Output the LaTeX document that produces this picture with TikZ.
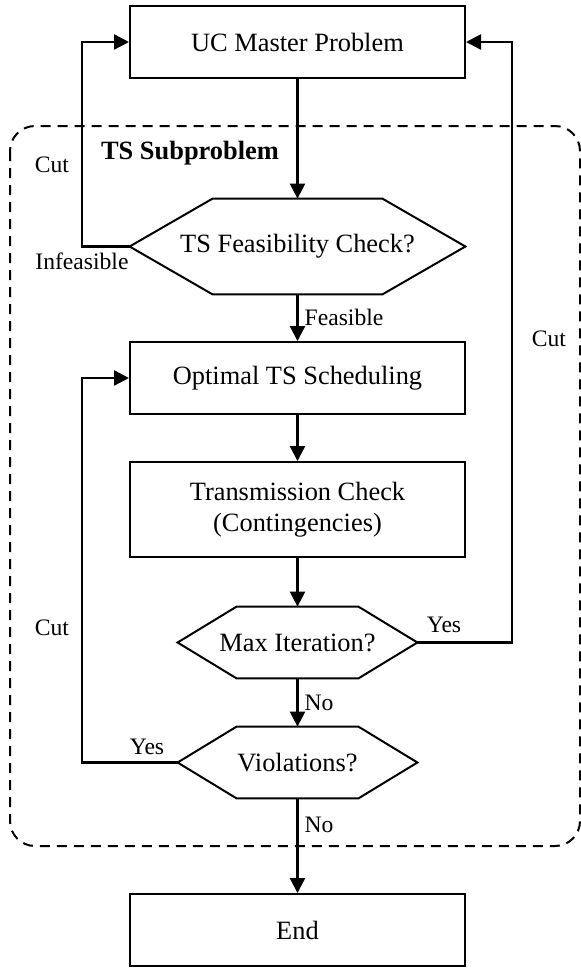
\documentclass[tikz,border=0pt]{standalone}
\usepackage{fontspec}
\setmainfont{Liberation Serif}
\usepackage{tikz}
\usetikzlibrary{arrows.meta}
\usetikzlibrary{calc}

\tikzset{
	procbox/.style={draw, line width=1pt, rectangle, inner sep=0pt,
		minimum width=167.5pt, minimum height=36pt, align=center},
	hexbox/.style={rectangle, inner sep=0pt},
	hexline/.style={line width=1pt, line join=miter},
	flow/.style={line width=1.2pt, -{Triangle[length=7.5pt,width=7.5pt]}},
	lbl/.style={font=\fontsize{11.8}{14}\selectfont, inner sep=0pt},
	tsbox/.style={line width=1pt, dash pattern=on 5pt off 3.5pt, rounded corners=12.5pt}
}

% hexagon round a named node, #2 = slant
\newcommand{\drawhex}[2]{
	\draw[hexline] (#1.west) -- ($(#1.north west)+(#2,0)$) -- ($(#1.north east)+(-#2,0)$)
		-- (#1.east) -- ($(#1.south east)+(-#2,0)$) -- ($(#1.south west)+(#2,0)$) -- cycle;
}

\begin{document}
\begin{tikzpicture}[x=0.5pt, y=-0.5pt, font=\fontsize{13.2}{15.8}\selectfont]
		\useasboundingbox (0,0) rectangle (581,971);
		% subproblem frame
		\draw[tsbox] (10,126) rectangle (580,846);
		\node[font=\fontsize{13.2}{15.8}\selectfont\bfseries, inner sep=0pt] (tstitle) at (190,153) {TS Subproblem};

		\coordinate (lft) at (82,0);
		\coordinate (rgt) at (512,0);

		\node[procbox] (master) at (297.5,42) {UC Master Problem};
		\node[hexbox, minimum width=167.5pt, minimum height=47.5pt] (feas) at (297.5,246.5) {TS Feasibility Check?};
		\node[procbox] (opt) at (297.5,378) {Optimal TS Scheduling};
		\node[procbox, minimum height=47.5pt] (trans) at (297.5,509.5) {Transmission Check\\(Contingencies)};
		\node[hexbox, minimum width=119.5pt, minimum height=35.5pt] (maxit) at (297.5,642.5) {Max Iteration?};
		\node[hexbox, minimum width=119.5pt, minimum height=35.5pt] (viol) at (297.5,762.5) {Violations?};
		\node[procbox] (finish) at (297.5,930) {End};

		\drawhex{feas}{83}
		\drawhex{maxit}{59}
		\drawhex{viol}{59}

		% main flow
		\draw[flow] (master.south) -- (feas.north);
		\draw[flow] (feas.south) -- node[lbl, right=3pt] (feaslbl) {Feasible} (opt.north);
		\draw[flow] (opt.south) -- (trans.north);
		\draw[flow] (trans.south) -- (maxit.north);
		\draw[flow] (maxit.south) -- node[lbl, right=3pt] (nolbla) {No} (viol.north);
		\draw[flow] (viol.south) -- node[lbl, right=3pt, pos=0.28] (nolblb) {No} (finish.north);

		% cuts
		\draw[flow] (feas.west) -- (feas.west -| lft) |- (master.west);
		\draw[flow] (maxit.east) -- (maxit.east -| rgt) |- (master.east);
		\draw[flow] (viol.west) -- (viol.west -| lft) |- (opt.west);

		\node[lbl] (cuta) at (52,165) {Cut};
		\node[lbl] (infeas) at (82,261) {Infeasible};
		\node[lbl] (cutb) at (52,628) {Cut};
		\node[lbl] (cutc) at (549,339) {Cut};
		\node[lbl] (yesa) at (444,625) {Yes};
		\node[lbl] (yesb) at (147,747) {Yes};
	\end{tikzpicture}
\end{document}
